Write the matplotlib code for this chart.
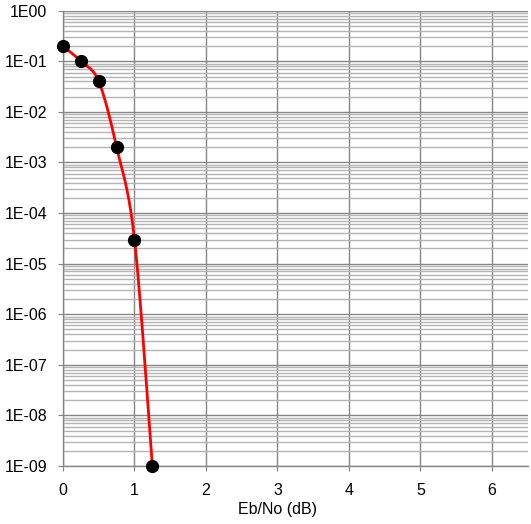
import numpy as np
import matplotlib
matplotlib.use("Agg")
import matplotlib.pyplot as plt
from matplotlib.ticker import FixedLocator, NullFormatter

plt.rcParams['font.family'] = ['Liberation Sans', 'DejaVu Sans']

# 数据
ebno = [0, 0.25, 0.5, 0.75, 1.0, 1.25]
ber = [2e-1, 1e-1, 4e-2, 2e-3, 3e-5, 1e-9]
x_ticks = [0, 1, 2, 3, 4, 5, 6]
y_ticks = [1e-9, 1e-8, 1e-7, 1e-6, 1e-5, 1e-4, 1e-3, 1e-2, 1e-1, 1]
y_labels = ["1E-09", "1E-08", "1E-07", "1E-06", "1E-05", "1E-04", "1E-03", "1E-02", "1E-01", "1E00"]

# 平滑曲线（类似 Excel 平滑线），在屏幕比例空间中做 Catmull-Rom
def smooth_curve(xs, ys, sx=71.4, sy=50.6, n=30):
    px = np.array(xs) * sx
    py = np.log10(ys) * sy
    pts = np.column_stack([px, py])
    pts = np.vstack([pts[0], pts, pts[-1]])
    out = []
    for i in range(1, len(pts) - 2):
        p0, p1, p2, p3 = pts[i - 1], pts[i], pts[i + 1], pts[i + 2]
        c1 = p1 + (p2 - p0) / 6
        c2 = p2 - (p3 - p1) / 6
        t = np.linspace(0, 1, n)[:, None]
        seg = ((1 - t) ** 3) * p1 + 3 * ((1 - t) ** 2) * t * c1 + 3 * (1 - t) * t ** 2 * c2 + t ** 3 * p2
        out.append(seg)
    out = np.vstack(out)
    return out[:, 0] / sx, 10 ** (out[:, 1] / sy)

fig = plt.figure(figsize=(5.31, 5.24), dpi=100)
W, H = 531, 524
ax = fig.add_axes([63 / W, 58 / H, (527.7 - 63) / W, (466 - 10.7) / H])

sx_, sy_ = smooth_curve(ebno, ber)
ax.plot(sx_, sy_, color='#ff0000', lw=2, zorder=3, clip_on=False)
ax.plot(ebno, ber, 'o', color='black', ms=8.5, zorder=4, clip_on=False)

ax.set_yscale('log')
ax.set_ylim(1e-9, 1)
ax.set_xlim(0, 6.5)
ax.xaxis.set_major_locator(FixedLocator(x_ticks))
ax.set_yticks(y_ticks)
ax.set_yticklabels(y_labels)
minor = [m * d for d in y_ticks[:-1] for m in range(2, 10)]
ax.yaxis.set_minor_locator(FixedLocator(minor))
ax.yaxis.set_minor_formatter(NullFormatter())

ax.grid(True, which='major', color='#868686', lw=1)
ax.grid(True, which='minor', axis='y', color='#b4b4b4', lw=1)
ax.set_axisbelow(True)

for s in ['top', 'right']:
    ax.spines[s].set_visible(False)
for s in ['left', 'bottom']:
    ax.spines[s].set_color('#868686')
    ax.spines[s].set_linewidth(1)

ax.tick_params(which='major', length=3.5, color='#868686', labelsize=11.5)
ax.tick_params(axis='x', pad=9)
ax.tick_params(axis='y', which='minor', length=0)
ax.tick_params(axis='y', pad=8)

ax.set_xlabel("Eb/No (dB)", fontsize=11.5, labelpad=1)
ax.xaxis.set_label_coords(3 / 6.5, -0.078)

fig.savefig("out.png", dpi=100)
